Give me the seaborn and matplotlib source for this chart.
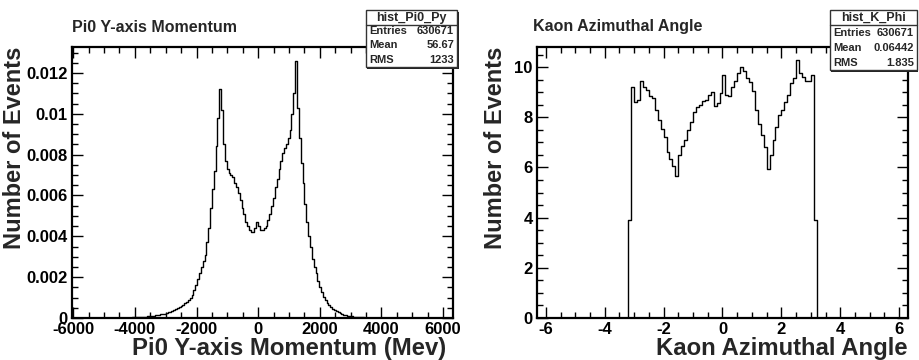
import numpy as np
import pandas as pd
import matplotlib
matplotlib.use("Agg")
import matplotlib.pyplot as plt
from matplotlib.patches import Rectangle
from matplotlib.lines import Line2D
from matplotlib.ticker import MultipleLocator, FuncFormatter
import seaborn as sns

# Pi0 Py histogram: 60 MeV bins from -4200 to 4200, values in units of 1e-4
pi0_bin_start = -4200
pi0_bin_width = 60
pi0_neg = [0.15, 0.2, 0.25, 0.3, 0.35, 0.4, 0.45, 0.5, 0.6, 0.65, 0.75, 0.85,
           1.0, 1.1, 1.25, 1.4, 1.6, 1.8, 2.0, 2.2, 2.4, 2.7, 3.0, 3.4, 3.8, 4.3, 4.8, 5.4, 6.0, 6.5,
           7.2, 8.0, 8.8, 10.0, 11.5, 13.5, 16, 19, 22, 25, 28, 31, 37, 44, 54, 63, 72, 84, 98, 112,
           102, 85, 77, 73, 71, 70, 69, 66, 64, 61, 58, 54, 51, 47, 45, 43, 42, 42, 44, 47]
pi0_pos = [45, 43, 43, 44, 45, 48, 51, 55, 59, 64, 68, 73, 77, 81, 83, 85, 88, 92, 100, 110, 126,
           103, 88, 76, 66, 56, 47, 40, 35, 29, 25, 22, 18, 15, 12.5, 10.5, 8.8, 7.5, 6.5, 5.6, 4.6,
           4.0, 3.3, 2.8, 2.3, 1.9, 1.6, 1.3, 1.1, 0.95, 0.8, 0.65, 0.55, 0.45, 0.38, 0.32, 0.27,
           0.22, 0.18, 0.15, 0.12, 0.1, 0.08, 0.07, 0.06, 0.05, 0.04, 0.03, 0.03, 0.02]
pi0_stats = [("Entries", "630671"), ("Mean", "56.67"), ("RMS", "1233")]

# Kaon phi histogram: 0.1 rad bins from -3.2 to 3.2
kaon_bin_start = -3.2
kaon_bin_width = 0.1
kaon_vals = [3.9, 9.2, 8.6, 8.7, 9.45, 9.2, 9.1, 8.85, 8.75, 8.3, 7.9, 7.55, 7.2, 6.6, 6.35, 6.05, 5.65,
             6.5, 6.85, 7.1, 7.5, 7.8, 8.2, 8.4, 8.5, 8.65, 8.7, 8.9, 9.0, 8.45, 8.55, 8.95,
             9.7, 8.9, 8.85, 9.2, 9.45, 9.75, 10.0, 9.85, 9.55, 9.4, 9.05, 8.3, 7.75, 7.3, 6.8, 5.95,
             6.5, 7.1, 7.6, 8.1, 8.3, 8.6, 8.9, 9.35, 9.55, 10.28, 9.75, 9.6, 9.45, 9.45, 9.7, 3.9]
kaon_stats = [("Entries", "630671"), ("Mean", "0.06442"), ("RMS", "1.835")]

sns.set_style("ticks")
plt.rcParams['font.family'] = ['Liberation Sans', 'DejaVu Sans']
plt.rcParams['font.weight'] = 'bold'

W, H = 920, 360
fig = plt.figure(figsize=(W / 100, H / 100), dpi=100)
fig.patch.set_facecolor("white")


def fx(x):
    return x / W


def fy(y):
    return 1 - y / H


def style_axes(ax, xmaj, xmin, ymaj, ymin):
    for s in ax.spines.values():
        s.set_linewidth(1.6)
        s.set_color("black")
        s.set_visible(True)
    ax.xaxis.set_major_locator(MultipleLocator(xmaj))
    ax.xaxis.set_minor_locator(MultipleLocator(xmin))
    ax.yaxis.set_major_locator(MultipleLocator(ymaj))
    ax.yaxis.set_minor_locator(MultipleLocator(ymin))
    fmt = FuncFormatter(lambda v, p: f"{v:g}")
    ax.xaxis.set_major_formatter(fmt)
    ax.yaxis.set_major_formatter(fmt)
    ax.tick_params(which="both", direction="in", top=True, right=True, width=1, colors="black")
    ax.tick_params(which="major", length=8, labelsize=12, pad=3)
    ax.tick_params(which="minor", length=4.5)
    ax.set_xlabel("")
    ax.set_ylabel("")
    ax.grid(False)


def stats_box(name, rows, x0, x1, y0, y1, yhead, row_y):
    fig.patches.append(Rectangle((fx(x0) + 1.5 / W, fy(y1) - 1.5 / H), fx(x1) - fx(x0), fy(y0) - fy(y1),
                                 transform=fig.transFigure, facecolor="#222222", edgecolor="none", zorder=9))
    fig.patches.append(Rectangle((fx(x0), fy(y1)), fx(x1) - fx(x0), fy(y0) - fy(y1),
                                 transform=fig.transFigure, facecolor="white", edgecolor="#333333",
                                 linewidth=1, zorder=10))
    fig.lines.append(Line2D([fx(x0), fx(x1)], [fy(yhead), fy(yhead)], transform=fig.transFigure,
                            color="#333333", linewidth=1, zorder=11))
    fig.text(fx((x0 + x1) / 2), fy((y0 + yhead) / 2), name, ha="center", va="center",
             fontsize=9, fontweight="bold", zorder=12)
    for (lab, val), yy in zip(rows, row_y):
        fig.text(fx(x0 + 3), fy(yy), lab, ha="left", va="center", fontsize=8, fontweight="bold", zorder=12)
        fig.text(fx(x1 - 3), fy(yy), val, ha="right", va="center", fontsize=8, fontweight="bold", zorder=12)


# ---- left panel: Pi0 Py
ax1 = fig.add_axes([fx(72), fy(318), fx(453) - fx(72), fy(47) - fy(318)])
pi0_vals = np.array(pi0_neg + pi0_pos) * 1e-4
pi0_df = pd.DataFrame({
    "py": pi0_bin_start + pi0_bin_width * (np.arange(len(pi0_vals)) + 0.5),
    "w": pi0_vals,
})
pi0_edges = list(np.arange(-6000, 6300 + 1, pi0_bin_width))
sns.histplot(data=pi0_df, x="py", weights="w", bins=pi0_edges, element="step", fill=False,
             color="black", linewidth=1.0, ax=ax1)
ax1.set_xlim(-6040, 6320)
ax1.set_ylim(0, 0.01327)
style_axes(ax1, 2000, 500, 0.002, 0.0005)

# ---- right panel: Kaon phi
ax2 = fig.add_axes([fx(537), fy(318), fx(908) - fx(537), fy(47) - fy(318)])
kaon_df = pd.DataFrame({
    "phi": kaon_bin_start + kaon_bin_width * (np.arange(len(kaon_vals)) + 0.5),
    "w": kaon_vals,
})
kaon_edges = list(np.linspace(-6.3, 6.3, 127))
sns.histplot(data=kaon_df, x="phi", weights="w", bins=kaon_edges, element="step", fill=False,
             color="black", linewidth=1.0, ax=ax2)
ax2.set_xlim(-6.3, 6.3)
ax2.set_ylim(0, 10.8)
style_axes(ax2, 2, 0.5, 2, 0.5)

# titles and axis titles
fig.text(fx(72), fy(27), "Pi0 Y-axis Momentum", ha="left", va="center", fontsize=11.5, fontweight="bold")
fig.text(fx(533), fy(27), "Kaon Azimuthal Angle", ha="left", va="center", fontsize=11.5, fontweight="bold")
fig.text(fx(446), fy(349), "Pi0 Y-axis Momentum (Mev)", ha="right", va="center", fontsize=17.2, fontweight="bold")
fig.text(fx(908), fy(349), "Kaon Azimuthal Angle", ha="right", va="center", fontsize=17.2, fontweight="bold")
fig.text(fx(15), fy(47), "Number of Events", rotation=90, ha="center", va="top", fontsize=17, fontweight="bold")
fig.text(fx(496), fy(47), "Number of Events", rotation=90, ha="center", va="top", fontsize=17, fontweight="bold")

stats_box("hist_Pi0_Py", pi0_stats, 366, 457, 10, 67, 25, [31, 45.5, 60])
stats_box("hist_K_Phi", kaon_stats, 830, 917, 10, 70, 25, [33, 48, 63])

fig.savefig("out.png", dpi=100, facecolor="white")
